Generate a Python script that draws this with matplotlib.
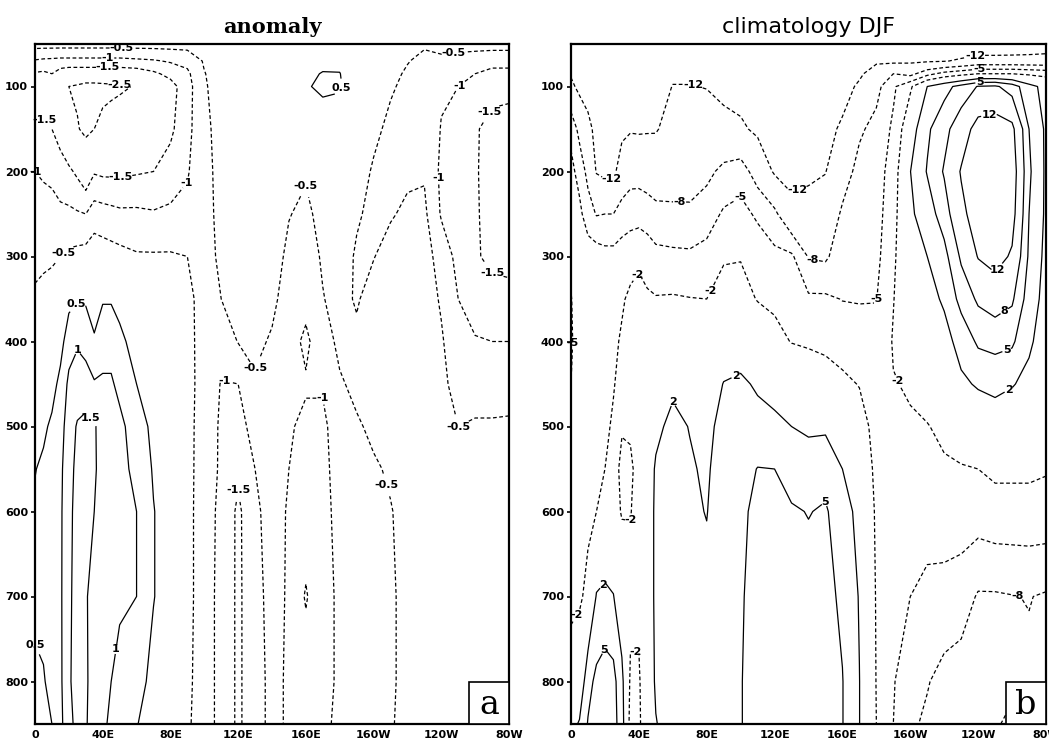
import numpy as np
import matplotlib.pyplot as plt
from matplotlib.patches import Rectangle

# grid: longitude (deg east, 0..280 = 0..80W) and pressure (hPa)
lons = [0, 5, 10, 15, 20, 25, 30, 35, 40, 45, 50, 60, 70, 80, 90, 100, 110, 120, 130,
        140, 150, 160, 170, 180, 190, 200, 210, 220, 230, 240, 250, 260, 270, 280]
plevs = [50, 70, 85, 100, 150, 200, 250, 300, 350, 400, 450, 500, 550, 600, 700, 800, 850]

lon_ticks = [0, 40, 80, 120, 160, 200, 240, 280]
lon_labels = ['0', '40E', '80E', '120E', '160E', '160W', '120W', '80W']
p_ticks = [100, 200, 300, 400, 500, 600, 700, 800]

anom_levels = [-2.5, -1.5, -1, -0.5, 0.5, 1, 1.5]
clim_levels = [-12, -8, -5, -2, 2, 5, 8, 12]

# anomaly: one profile (50 -> 850 hPa) per longitude
anomaly = [
    [-0.3, -1.05, -1.55, -1.8, -1.4, -1.0, -0.82, -0.62, -0.43, -0.25, -0.05, 0.2, 0.48, 0.58, 0.6, 0.42, 0.38],
    [-0.3, -1.1, -1.6, -1.65, -1.45, -1.05, -0.85, -0.58, -0.38, -0.15, 0.1, 0.4, 0.6, 0.7, 0.7, 0.45, 0.4],
    [-0.3, -1.12, -1.5, -1.55, -1.5, -1.1, -0.85, -0.55, -0.35, -0.1, 0.3, 0.6, 0.8, 0.85, 0.85, 0.7, 0.5],
    [-0.3, -1.15, -1.75, -2.1, -1.75, -1.25, -0.9, -0.5, -0.2, 0.3, 0.65, 0.8, 0.9, 0.92, 0.92, 0.9, 0.85],
    [-0.3, -1.15, -1.85, -2.5, -2.1, -1.4, -0.9, -0.4, 0.35, 0.8, 1.1, 1.25, 1.3, 1.35, 1.4, 1.45, 1.4],
    [-0.3, -1.15, -1.85, -2.6, -2.45, -1.6, -0.95, -0.35, 0.45, 0.95, 1.2, 1.55, 1.65, 1.7, 1.7, 1.65, 1.6],
    [-0.3, -1.15, -1.85, -2.75, -2.65, -1.9, -1.0, -0.3, 0.45, 0.75, 1.3, 1.6, 1.7, 1.7, 1.55, 1.6, 1.6],
    [-0.3, -1.15, -1.85, -2.75, -2.5, -1.55, -0.75, -0.2, 0.3, 0.55, 1.05, 1.55, 1.55, 1.5, 1.3, 1.2, 1.0],
    [-0.3, -1.15, -1.85, -2.7, -2.3, -1.6, -0.8, -0.25, 0.45, 0.85, 1.05, 1.3, 1.35, 1.3, 1.25, 1.05, 1.05],
    [-0.3, -1.15, -1.85, -2.65, -2.2, -1.6, -0.85, -0.3, 0.45, 0.85, 1.05, 1.2, 1.2, 1.2, 1.15, 1.0, 0.95],
    [-0.3, -1.15, -1.85, -2.6, -2.1, -1.6, -0.9, -0.35, 0.3, 0.65, 0.9, 1.1, 1.12, 1.12, 1.05, 0.9, 0.8],
    [-0.3, -1.1, -1.8, -2.45, -2.0, -1.55, -0.9, -0.45, -0.1, 0.25, 0.5, 0.8, 0.9, 1.0, 1.0, 0.7, 0.52],
    [-0.3, -1.05, -1.6, -2.1, -1.8, -1.5, -0.95, -0.45, -0.25, 0.0, 0.2, 0.35, 0.45, 0.52, 0.52, 0.35, 0.3],
    [-0.3, -0.95, -1.35, -1.7, -1.6, -1.3, -0.9, -0.45, -0.25, -0.1, 0.0, 0.1, 0.2, 0.25, 0.25, 0.1, 0.05],
    [-0.3, -0.85, -1.1, -1.2, -1.15, -1.05, -0.85, -0.5, -0.4, -0.35, -0.3, -0.3, -0.3, -0.3, -0.3, -0.35, -0.4],
    [-0.3, -0.45, -0.52, -0.55, -0.6, -0.6, -0.6, -0.6, -0.65, -0.7, -0.75, -0.8, -0.82, -0.85, -0.85, -0.85, -0.85],
    [-0.2, -0.25, -0.28, -0.3, -0.35, -0.4, -0.42, -0.45, -0.5, -0.8, -1.02, -1.05, -1.05, -1.08, -1.1, -1.1, -1.1],
    [-0.1, -0.15, -0.18, -0.2, -0.25, -0.3, -0.32, -0.35, -0.4, -0.48, -1.0, -1.2, -1.4, -1.6, -1.6, -1.6, -1.6],
    [0.0, 0.0, -0.02, -0.05, -0.1, -0.15, -0.2, -0.25, -0.3, -0.4, -0.55, -0.8, -1.0, -1.1, -1.15, -1.15, -1.15],
    [0.0, 0.1, 0.1, 0.1, 0.0, -0.1, -0.2, -0.3, -0.4, -0.55, -0.65, -0.7, -0.75, -0.8, -0.85, -0.9, -0.9],
    [0.1, 0.2, 0.25, 0.3, 0.1, -0.2, -0.48, -0.6, -0.7, -0.8, -0.9, -0.95, -1.0, -1.05, -1.05, -1.05, -1.05],
    [0.2, 0.35, 0.42, 0.45, 0.1, -0.45, -0.6, -0.7, -0.85, -1.1, -0.95, -1.1, -1.15, -1.2, -1.55, -1.2, -1.15],
    [0.2, 0.4, 0.52, 0.6, 0.2, -0.2, -0.35, -0.45, -0.52, -0.7, -0.95, -1.1, -1.1, -1.1, -1.1, -1.1, -1.05],
    [0.15, 0.35, 0.52, 0.56, 0.15, -0.1, -0.2, -0.3, -0.35, -0.4, -0.55, -0.75, -0.85, -0.9, -0.95, -0.95, -0.95],
    [0.0, 0.0, 0.05, 0.1, -0.1, -0.3, -0.45, -0.55, -0.55, -0.4, -0.4, -0.55, -0.65, -0.7, -0.75, -0.8, -0.8],
    [-0.1, -0.15, -0.22, -0.3, -0.4, -0.55, -0.6, -0.52, -0.3, -0.3, -0.35, -0.42, -0.55, -0.6, -0.62, -0.62, -0.6],
    [-0.2, -0.35, -0.4, -0.45, -0.6, -0.62, -0.55, -0.3, -0.25, -0.25, -0.3, -0.38, -0.45, -0.52, -0.55, -0.55, -0.53],
    [-0.35, -0.48, -0.55, -0.6, -0.65, -0.6, -0.4, -0.3, -0.25, -0.25, -0.25, -0.3, -0.35, -0.38, -0.4, -0.4, -0.4],
    [-0.45, -0.6, -0.7, -0.75, -0.7, -0.55, -0.4, -0.3, -0.28, -0.28, -0.3, -0.3, -0.3, -0.3, -0.3, -0.3, -0.3],
    [-0.35, -0.6, -0.85, -0.95, -1.02, -1.1, -1.05, -0.7, -0.55, -0.45, -0.4, -0.35, -0.3, -0.28, -0.25, -0.25, -0.25],
    [-0.35, -0.65, -0.9, -1.0, -1.2, -1.25, -1.2, -1.15, -1.0, -0.8, -0.65, -0.5, -0.4, -0.3, -0.25, -0.2, -0.2],
    [-0.35, -0.7, -1.0, -1.15, -1.45, -1.45, -1.45, -1.45, -1.3, -0.95, -0.7, -0.45, -0.35, -0.25, -0.2, -0.15, -0.15],
    [-0.35, -0.75, -1.2, -1.35, -1.65, -1.7, -1.65, -1.6, -1.35, -1.0, -0.7, -0.45, -0.35, -0.25, -0.2, -0.15, -0.15],
    [-0.35, -0.75, -1.2, -1.4, -1.65, -1.7, -1.65, -1.6, -1.4, -1.0, -0.65, -0.45, -0.35, -0.25, -0.2, -0.15, -0.15],
]

# DJF climatology, same layout
climatology = [
    [-15, -13.5, -12.3, -11.3, -5.8, -4.2, -4.3, -4.5, -5.1, -5.3, -5.0, -4.5, -4, -3.5, -2.5, -1, 1],
    [-15, -14, -13.3, -12.8, -9, -6, -4.3, -4.0, -3.9, -3.8, -3.6, -3.4, -3.2, -3, -2.3, -0.5, 2.3],
    [-15, -14.5, -14, -13.5, -11, -9, -6.5, -3.5, -3.5, -3.2, -3, -2.8, -2.6, -2.4, -1.5, 4, 5.2],
    [-15, -14.5, -14.2, -14, -13, -12.2, -8.2, -3.5, -3.3, -3.2, -3, -2.6, -2.3, -2, 2.2, 5.7, 6],
    [-15, -14.5, -14.2, -14, -13.3, -12.8, -8, -4, -3.3, -3, -2.6, -2.3, -2, -1, 2.6, 6.5, 6.8],
    [-15, -14.5, -14.2, -14, -13.3, -12.8, -8, -4, -3, -2.5, -2.1, -1.8, -1.5, -1, 2.1, 6, 6.2],
    [-15, -14.5, -14.2, -14, -12.8, -10.2, -6.8, -3.5, -2.3, -1.7, -1.5, -1.9, -2.3, -2.2, 0, 2.8, 3.3],
    [-15, -14.5, -14.1, -13.8, -12.3, -9.2, -6.3, -3, -1.5, -1.2, -1.3, -1.7, -2.4, -2.1, -1.2, -2.4, -3],
    [-15, -14.5, -14.1, -13.8, -12.4, -9.2, -6.2, -2.5, -1.2, -0.8, -0.5, -0.8, -1.2, -1.2, -1.3, -2.4, -2.6],
    [-15, -14.5, -14.1, -13.8, -12.3, -9.5, -6.6, -3.2, -1.6, -0.8, -0.2, 0.3, 0.6, 0.8, 0.8, 0.5, 0.4],
    [-15, -14.5, -14, -13.5, -12.2, -10.2, -7, -4.2, -1.8, -0.7, 0.3, 1.4, 2.3, 2.4, 2.4, 2.3, 1.9],
    [-14.5, -13.5, -12.5, -11.9, -11, -10, -7.2, -4.4, -1.7, -0.5, 1.5, 2.7, 3, 3.1, 3.2, 3.2, 3],
    [-14.5, -13.5, -12.5, -11.9, -10.8, -9.8, -7.3, -4.5, -1.9, -0.6, 1.0, 1.9, 2.3, 2.5, 3, 3.2, 3.2],
    [-14.5, -13.5, -12.6, -12.1, -10.5, -8.8, -6.4, -4.0, -2.0, -0.8, 0.4, 1.2, 1.6, 1.9, 2.8, 3.3, 3.3],
    [-14.5, -13.8, -13.3, -12.8, -11, -7.2, -4.6, -2.2, -1.2, 0.3, 2.1, 3, 3.5, 3.8, 4, 4.3, 4.3],
    [-14.5, -14, -13.6, -13.2, -11.5, -6.5, -4, -2.1, -1.3, 0.8, 2.4, 3.2, 3.8, 4.2, 4.6, 4.8, 4.8],
    [-15, -14.5, -14.1, -13.8, -12.6, -9.5, -5.5, -3.2, -2.1, -0.5, 1.7, 2.8, 5.1, 6, 6.5, 6.8, 6.8],
    [-15, -14.5, -14.2, -14, -13, -12.4, -7.3, -4.2, -2.5, -1.2, 1.2, 2.5, 5.0, 6, 6.5, 6.8, 6.8],
    [-15, -14.5, -14.2, -14, -13.5, -13, -11, -4.5, -3.5, -2.1, 0.5, 2.0, 3.8, 5.3, 6.2, 6.5, 6.5],
    [-15, -14.5, -14.2, -14, -13.3, -12.5, -11, -8.2, -4.5, -2.3, -0.5, 1.5, 3.5, 4.9, 6, 6.2, 6.2],
    [-15, -14.5, -14.2, -14, -13, -12.1, -10.5, -8.5, -4.5, -2.5, -1, 1.5, 4, 5.3, 5.8, 5.8, 5.8],
    [-15, -14.2, -13.7, -13.2, -11.5, -9.5, -7.5, -6.2, -5.1, -3, -1.5, 0.5, 2, 3.5, 4.5, 5.1, 5.1],
    [-14.5, -13.5, -12.5, -11.5, -8.5, -7, -6.3, -5.7, -5.2, -3.5, -2.1, -1, 0, 1, 1.8, 2.05, 2.05],
    [-14, -12.5, -10.5, -9, -7, -6.5, -6.2, -5.8, -5.1, -4, -3.2, -2.8, -2.6, -2.4, -2.2, -2.1, -2.0],
    [-14, -12.8, -8, -5.5, -4.5, -3.5, -3, -2.5, -2.1, -1.8, -2.1, -2.6, -3, -3.5, -4.3, -4.8, -5],
    [-14, -12.6, -9, -2.5, 0.5, 1.95, 1.5, 0.8, 0.2, -0.5, -1.8, -2.2, -3, -3.8, -5, -6.8, -7.5],
    [-14, -12.4, -6, 2.0, 4.5, 5.2, 3.5, 2.0, 1, 0, -1, -2.1, -3, -4, -5.6, -7.8, -8.5],
    [-14.5, -12.2, -4, 4, 7, 8.3, 6.5, 4, 2.4, 1, -0.5, -1.5, -2.3, -3.5, -6, -9, -9.5],
    [-14.8, -11.5, -3, 6, 10, 12.3, 11, 8.5, 6, 3, 1.5, -0.5, -2.2, -3.5, -6.5, -9.5, -10],
    [-15, -10.5, -2, 8.2, 13.5, 15, 14, 12.2, 8.5, 5.5, 2.3, 0, -2, -3.5, -8.3, -10, -10],
    [-15, -10.5, -2, 8.5, 14, 15.5, 15, 13.5, 9.5, 6, 2.7, 0.5, -1.5, -3, -8.3, -9.8, -8.5],
    [-14.8, -10.5, -2, 6.5, 13, 14.2, 13.5, 11.5, 8.5, 5.5, 2.2, 0, -1.5, -3, -8.1, -9, -7],
    [-14.5, -10.5, -2.5, 3, 5, 5.5, 5, 4.5, 3.5, 2.5, 1.2, -0.2, -1.5, -3, -7.9, -8.5, -4],
    [-14, -10.5, -3, 1, 1.5, 1.5, 1.5, 1.2, 1, 0.5, 0, -0.8, -1.8, -3, -8.3, -8.2, -1.5],
]

# where the contour labels sit in the original (lon, hPa)
anom_label_at = [
    (51, 55), (43, 66), (43, 77), (50, 95), (5, 141), (4, 195), (51, 212), (89, 212),
    (15, 292), (25, 357), (25, 404), (34, 488), (7, 752), (50, 763), (158, 212),
    (178, 100), (247, 57), (251, 100), (268, 130), (234, 208), (268, 328), (114, 430),
    (132, 432), (172, 462), (247, 505), (119, 568), (209, 568),
]
clim_label_at = [
    (24, 216), (72, 98), (135, 230), (238, 62), (64, 235), (143, 297), (100, 218),
    (182, 350), (3, 402), (85, 343), (36, 318), (186, 452), (36, 610), (38, 765),
    (4, 722), (263, 700), (95, 432), (65, 455), (17, 683), (20, 763), (154, 580),
    (247, 139), (256, 450), (256, 406), (256, 366), (254, 320), (241, 80), (241, 97),
]


def draw_panel(ax, field, levels, label_at, title, title_kw, letter):
    z = np.array(field).T
    styles = [(0, (3, 2)) if lv < 0 else 'solid' for lv in levels]
    cs = ax.contour(lons, plevs, z, levels=levels, colors='k',
                    linewidths=0.9, linestyles=styles)
    ax.set_xlim(0, 280)
    ax.set_ylim(850, 50)
    labels = ax.clabel(cs, fmt='%g', fontsize=8, inline=True, inline_spacing=1,
                       manual=label_at)
    for t in labels:
        t.set_rotation(0)
        t.set_fontweight('bold')
        t.set_clip_on(False)
    ax.set_xticks(lon_ticks)
    ax.set_xticklabels(lon_labels)
    ax.set_yticks(p_ticks)
    ax.tick_params(axis='y', direction='out', length=3, width=1.2, labelsize=8, pad=2)
    ax.tick_params(axis='x', length=0, labelsize=8, pad=4)
    for lab in ax.get_xticklabels() + ax.get_yticklabels():
        lab.set_fontweight('bold')
    for s in ax.spines.values():
        s.set_linewidth(1.6)
    ax.set_title(title, pad=8, **title_kw)
    ax.add_patch(Rectangle((0.916, 0), 0.084, 0.062, transform=ax.transAxes,
                           facecolor='white', edgecolor='k', linewidth=1.2, zorder=5))
    ax.text(0.958, 0.028, letter, transform=ax.transAxes, ha='center', va='center',
            fontsize=24, family='DejaVu Serif', zorder=6)


fig = plt.figure(figsize=(10.49, 7.40), dpi=100)
ax1 = fig.add_axes([35 / 1049, 16 / 740, 474 / 1049, 680 / 740])
ax2 = fig.add_axes([571 / 1049, 16 / 740, 475 / 1049, 680 / 740])

draw_panel(ax1, anomaly, anom_levels, anom_label_at, 'anomaly',
           dict(fontsize=15, fontweight='bold', family='DejaVu Serif'), 'a')
draw_panel(ax2, climatology, clim_levels, clim_label_at, 'climatology DJF',
           dict(fontsize=16, fontweight='normal', family='DejaVu Sans'), 'b')

fig.savefig('out.png', dpi=100)
